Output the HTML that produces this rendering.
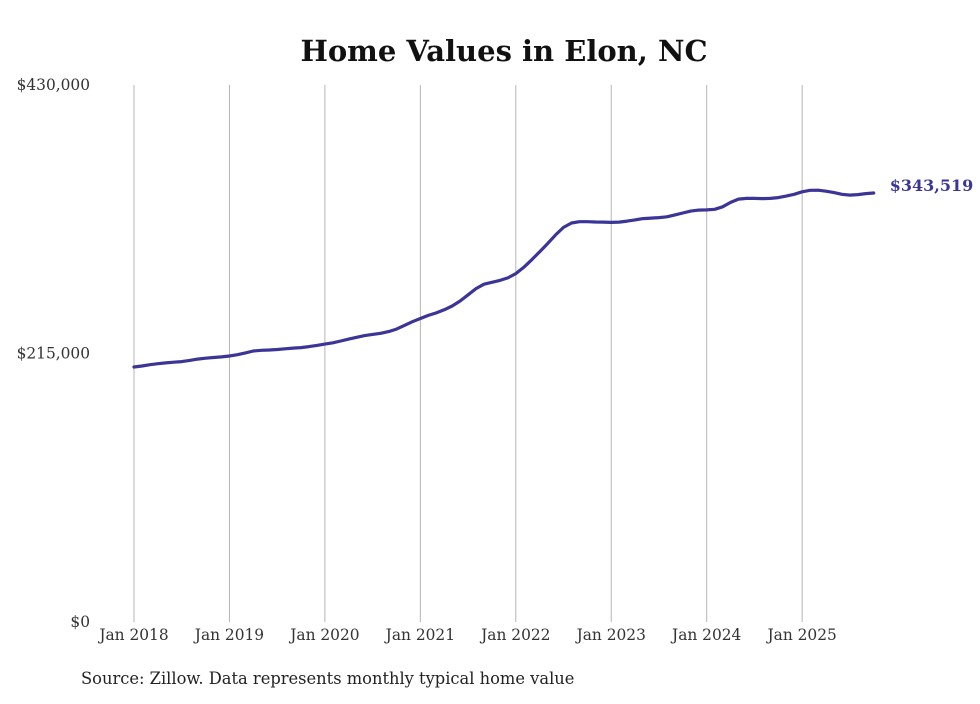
<!DOCTYPE html>
<html><head><meta charset="utf-8"><style>
body{margin:0;background:#fff;}
svg text{font-family:"DejaVu Serif","Liberation Serif",serif;}
</style></head><body>
<svg width="980" height="699" id="chart">
<text x="504" y="61" text-anchor="middle" font-size="29" font-weight="bold" fill="#111">Home Values in Elon, NC</text>
<text x="81" y="684" font-size="16.3" fill="#222">Source: Zillow. Data represents monthly typical home value</text>
<g id="grid"></g><g id="yaxis"></g><g id="xaxis"></g><g id="series"></g>
</svg>
<script>
const yTickValues=[0,215000,430000];
const yTickLabels=["$0","$215,000","$430,000"];
const xTickYears=[2018,2019,2020,2021,2022,2023,2024,2025];
const xTickLabels=["Jan 2018","Jan 2019","Jan 2020","Jan 2021","Jan 2022","Jan 2023","Jan 2024","Jan 2025"];
const startYear=2018;
const values=[
204.2,205,206,206.8,207.5,208,208.5,209.5,210.5,211.2,211.8,212.3,
213,214,215.5,217,217.6,217.8,218.2,218.8,219.3,219.7,220.5,221.5,
222.5,223.6,225,226.5,228,229.3,230.3,231.2,232.5,234.5,237.5,240.5,
243,245.5,247.5,250,253,257,262,267,270.5,272,273.5,275.5,
279,284,290,296.5,303,310,316,319.5,320.5,320.5,320.3,320.2,
320,320.2,321,322,323,323.4,323.8,324.5,326,327.5,329,329.8,
330,330.5,332.5,336,338.6,339.2,339.2,339,339.2,339.8,341,342.5,
344.5,345.7,345.8,345,343.8,342.5,341.8,342.2,343,343.519];
const lastLabel="$343,519";
const NS="http://www.w3.org/2000/svg";
const y=v=>622-v/430000*537;
const x=m=>134+m*(95.45/12);
function mk(t,a,p){const e=document.createElementNS(NS,t);for(const k in a)e.setAttribute(k,a[k]);p.appendChild(e);return e;}
const grid=document.getElementById('grid'),ya=document.getElementById('yaxis'),xa=document.getElementById('xaxis'),se=document.getElementById('series');
xTickYears.forEach((yr,i)=>{const xx=x((yr-startYear)*12);
const l=mk('line',{x1:xx,x2:xx,y1:85,y2:622,stroke:'#b5b5b5','stroke-width':1},grid);


const t=mk('text',{x:xx,y:640,'text-anchor':'middle','font-size':15.4,fill:'#333'},xa);t.textContent=xTickLabels[i];

});
yTickValues.forEach((v,i)=>{const t=mk('text',{x:90,y:y(v)+5,'text-anchor':'end','font-size':15.4,fill:'#333'},ya);t.textContent=yTickLabels[i];

});
let d='';values.forEach((v,i)=>{d+=(i?'L':'M')+x(i).toFixed(1)+','+y(v*1000).toFixed(1);});
const p=mk('path',{d:d,fill:'none',stroke:'#3b3597','stroke-width':3.2,'stroke-linejoin':'round','stroke-linecap':'round'},se);


const li=values.length-1;
const lt=mk('text',{x:x(li)+16,y:y(values[li]*1000)-2,'font-size':16,'font-weight':'bold',fill:'#3b3597'},se);lt.textContent=lastLabel;


</script>
</body></html>
